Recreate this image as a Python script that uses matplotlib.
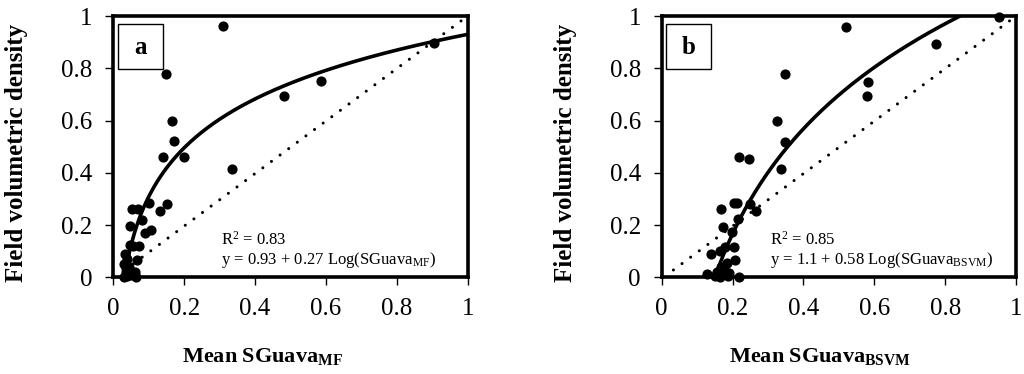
import numpy as np
import matplotlib
matplotlib.use("Agg")
import matplotlib.pyplot as plt
from matplotlib.patches import Rectangle

plt.rcParams['font.family'] = ['Liberation Serif', 'DejaVu Serif']
plt.rcParams['mathtext.fontset'] = 'custom'
plt.rcParams['mathtext.rm'] = 'Liberation Serif'
plt.rcParams['mathtext.it'] = 'Liberation Serif:italic'
plt.rcParams['mathtext.bf'] = 'Liberation Serif:bold'

# panel a: mean SGuava (MF) vs field volumetric density
mf_x = [0.31, 0.15, 0.167, 0.171, 0.139, 0.201, 0.334, 0.481, 0.587, 0.906,
        0.10, 0.152, 0.132, 0.053, 0.070, 0.080, 0.106, 0.090, 0.047, 0.048,
        0.073, 0.034, 0.067, 0.055, 0.040, 0.030, 0.045, 0.060, 0.035, 0.040,
        0.030, 0.050, 0.065, 0.035]
mf_y = [0.96, 0.78, 0.60, 0.52, 0.46, 0.46, 0.415, 0.695, 0.75, 0.895,
        0.285, 0.28, 0.255, 0.26, 0.26, 0.22, 0.18, 0.17, 0.195, 0.125,
        0.12, 0.09, 0.065, 0.12, 0.07, 0.05, 0.04, 0.02, 0.02, 0.005,
        0.0, 0.01, 0.0, 0.035]

# panel b: mean SGuava (BSVM)
bsvm_x = [0.951, 0.52, 0.775, 0.583, 0.578, 0.347, 0.325, 0.347, 0.338, 0.218,
          0.247, 0.204, 0.212, 0.25, 0.266, 0.168, 0.215, 0.174, 0.198, 0.179,
          0.205, 0.139, 0.165, 0.208, 0.184, 0.168, 0.127, 0.15, 0.165, 0.188,
          0.217, 0.155, 0.175, 0.19]
bsvm_y = [0.995, 0.957, 0.894, 0.746, 0.695, 0.779, 0.597, 0.518, 0.413, 0.46,
          0.454, 0.284, 0.284, 0.28, 0.255, 0.26, 0.222, 0.194, 0.175, 0.117,
          0.117, 0.089, 0.10, 0.066, 0.054, 0.04, 0.013, 0.003, 0.0, 0.005,
          0.0, 0.02, 0.03, 0.015]

# fitted log curves y = a + b*ln(x)
fit_a = [0.93, 1.1]
fit_b = [0.27, 0.58]
r2 = ["0.83", "0.85"]
sub = ["MF", "BSVM"]
letters = ["a", "b"]
ticks = [0, 0.2, 0.4, 0.6, 0.8, 1]
tick_labels = ["0", "0.2", "0.4", "0.6", "0.8", "1"]

fig = plt.figure(figsize=(10.24, 3.74), dpi=100)
lefts = [0.1106, 0.6462]
xlab_pos = [0.42, 0.447]
data = [(mf_x, mf_y), (bsvm_x, bsvm_y)]

for i in range(2):
    ax = fig.add_axes([lefts[i], 0.2586, 0.3461, 0.6985])
    xs, ys = data[i]
    # 1:1 line
    ax.plot([0.033, 0.985], [0.028, 0.985], color='black', lw=2.2,
            linestyle=(0, (0.01, 3.5)), dash_capstyle='round')
    t = np.linspace(0.01, 1, 400)
    ax.plot(t, fit_a[i] + fit_b[i] * np.log(t), color='black', lw=2.6)
    ax.scatter(xs, ys, s=40, color='black', zorder=3, clip_on=False)
    ax.set_xlim(0, 1)
    ax.set_ylim(0, 1)
    ax.set_xticks(ticks)
    ax.set_xticklabels(tick_labels)
    ax.set_yticks(ticks)
    ax.set_yticklabels(tick_labels)
    ax.tick_params(labelsize=18, length=6, width=1, pad=9)
    for s in ax.spines.values():
        s.set_linewidth(2.6)
    ax.text(-0.272, 0.476, "Field volumetric density", fontsize=18,
            fontweight='bold', rotation=90, ha='center', va='center',
            transform=ax.transAxes)
    ax.text(xlab_pos[i], -0.305, "Mean SGuava$_{\\mathbf{%s}}$" % sub[i],
            fontsize=16, fontweight='bold', ha='center', va='center',
            transform=ax.transAxes)
    ax.text(0.305, 0.124, "R$^2$ = %s" % r2[i], fontsize=12,
            transform=ax.transAxes)
    ax.text(0.305, 0.05, "y = %s + %s Log(SGuava$_{\\mathrm{%s}}$)"
            % (fit_a[i], fit_b[i], sub[i]), fontsize=12,
            transform=ax.transAxes)
    ax.add_patch(Rectangle((0.013, 0.796), 0.127, 0.173, transform=ax.transAxes,
                           fill=False, lw=1, edgecolor='black', zorder=4))
    ax.text(0.076, 0.88, letters[i], fontsize=18, fontweight='bold',
            ha='center', va='center', transform=ax.transAxes)

fig.savefig("out.png", dpi=100)
